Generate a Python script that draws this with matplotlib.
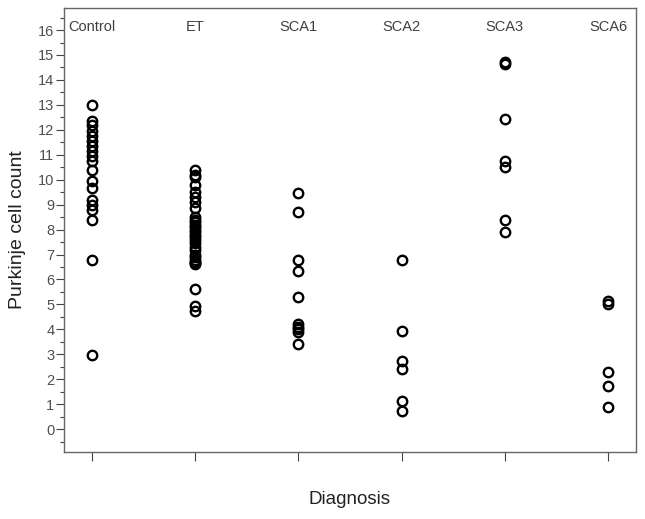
import numpy as np
import matplotlib
matplotlib.use("Agg")
import matplotlib.pyplot as plt
import matplotlib.transforms as mtransforms
from matplotlib.ticker import MultipleLocator

plt.rcParams['font.family'] = ['Liberation Sans', 'DejaVu Sans']

# diagnosis groups and Purkinje cell counts
groups = ['Control', 'ET', 'SCA1', 'SCA2', 'SCA3', 'SCA6']

control = [13.0, 12.35, 12.2, 11.95, 11.75, 11.55, 11.35, 11.15, 10.95, 10.75,
           10.4, 9.95, 9.65, 9.2, 9.0, 8.8, 8.4, 6.8, 2.97]
et = [10.4, 10.2, 10.1, 9.8, 9.5, 9.3, 9.1, 8.85, 8.5, 8.4, 8.3, 8.2, 8.1,
      8.0, 7.9, 7.8, 7.7, 7.6, 7.45, 7.3, 7.2, 7.0, 6.9, 6.8, 6.7, 6.65, 6.6,
      5.6, 4.95, 4.75]
sca1 = [9.45, 8.7, 6.8, 6.33, 5.28, 4.2, 4.1, 4.0, 3.9, 3.42]
sca2 = [6.79, 3.93, 2.73, 2.42, 1.12, 0.71]
sca3 = [14.7, 14.62, 12.43, 10.73, 10.52, 8.38, 7.91]
sca6 = [5.13, 5.0, 2.27, 1.72, 0.87]

values = [control, et, sca1, sca2, sca3, sca6]

fig = plt.figure(figsize=(6.45, 5.19), dpi=100)
ax = fig.add_axes([0.0992, 0.129, 0.8868, 0.8554])

for i, vals in enumerate(values):
    ax.plot(np.full(len(vals), i), vals, linestyle='none', marker='o',
            markersize=6.8, markerfacecolor='none', markeredgecolor='black',
            markeredgewidth=1.7)

ax.set_xlim(-0.27, 5.27)
ax.set_ylim(-0.92, 16.88)
ax.set_xticks(range(len(groups)))
ax.set_xticklabels([])
ax.yaxis.set_major_locator(MultipleLocator(1))
ax.yaxis.set_minor_locator(MultipleLocator(0.5))

ax.tick_params(axis='x', length=6.5, width=0.8, color='#444444')
ax.tick_params(axis='y', which='major', length=6, width=0.8, color='#444444',
               labelsize=10.5, labelcolor='#505050', pad=1)
ax.tick_params(axis='y', which='minor', length=3, width=0.8, color='#444444')

for s in ax.spines.values():
    s.set_color('#666666')
    s.set_linewidth(1.0)

trans = mtransforms.blended_transform_factory(ax.transData, ax.transAxes)
for i, g in enumerate(groups):
    ax.text(i, 0.957, g, transform=trans, ha='center', va='center',
            fontsize=10.5, color='#404040')

ax.set_ylabel('Purkinje cell count', fontsize=14, color='#222222')
ax.yaxis.set_label_coords(-0.066, 0.5)
ax.set_xlabel('Diagnosis', fontsize=13.5, color='#222222')
ax.xaxis.set_label_coords(0.5, -0.088)

fig.savefig('out.png', dpi=100)
